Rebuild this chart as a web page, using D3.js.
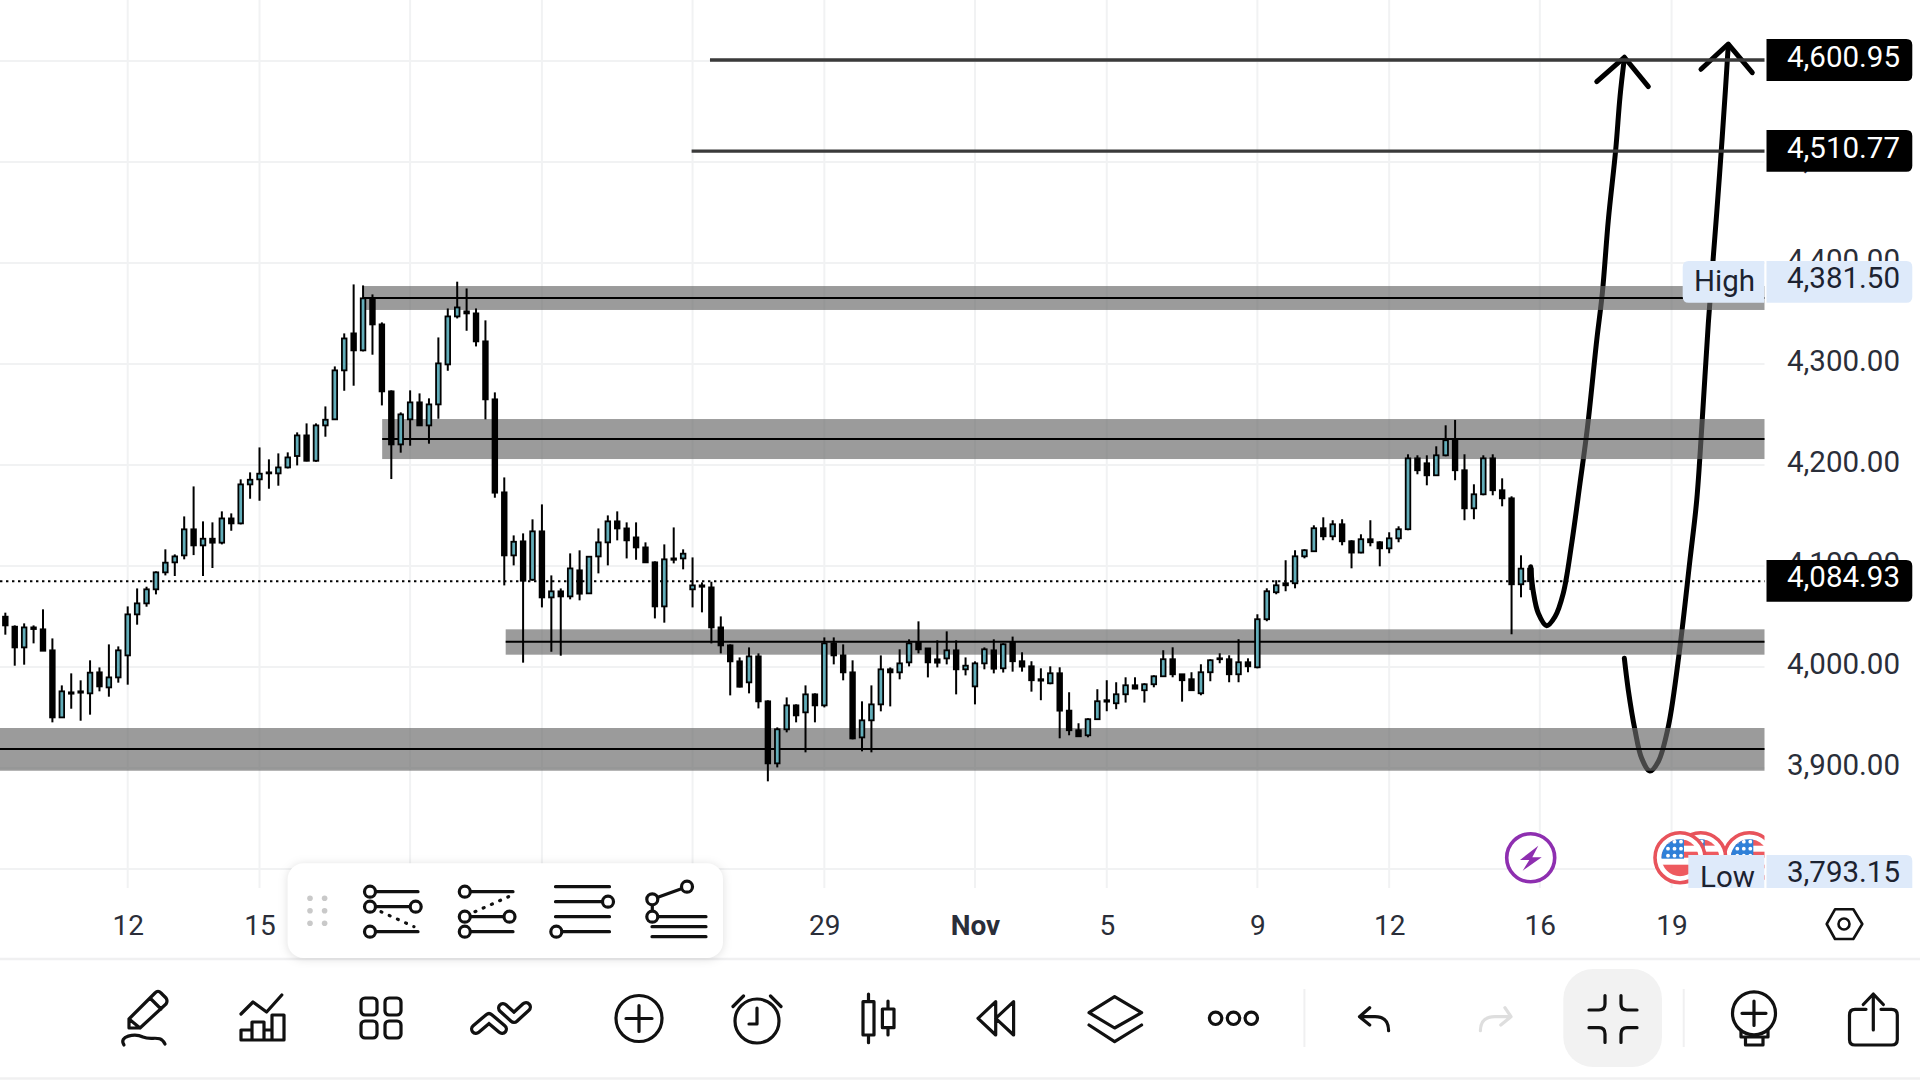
<!DOCTYPE html>
<html>
<head>
<meta charset="utf-8">
<title>Price chart</title>
<script src="https://cdn.jsdelivr.net/npm/d3@7/dist/d3.min.js"></script>
<style>
  html, body { margin: 0; padding: 0; background: #fff; }
  svg { display: block; }
  text { font-family: Roboto, "Liberation Sans", sans-serif; }
</style>
</head>
<body>
<svg id="chart" width="1920" height="1080"></svg>
<script>
// Candle series, one entry per bar
const opens = [
  4049.8,4039.9,4019.4,4039.2,4037.3,4016.5,3950.1,3974.9,3975.9,3973.9,
  3994.7,3979.8,3989.7,4011.5,4052.1,4063,4076.9,4093.7,4103.6,4110.5,
  4136.3,4120.4,4127,4123.1,4147.1,4142.2,4180.8,4185.8,4191.7,4191.7,
  4197.6,4208.9,4229.3,4204.2,4239.2,4245.2,4293.7,4330.3,4313.5,4365,
  4339.2,4272.9,4220.4,4245.2,4262,4239.2,4260,4299.6,4347.1,4352.1,
  4350.1,4322.4,4265,4172.9,4110.5,4124.4,4086.4,4134.3,4068.9,4074.9,
  4069.9,4095.7,4072.9,4109.5,4123.4,4144.2,4137.2,4128.3,4118.4,4103.6,
  4060,4107.5,4107.5,4076.9,4080.8,4078.8,4039.2,4021.4,4005.6,3984.8,
  4010.5,3966,3904.6,3938.3,3962,3955.1,3972.9,3962,4023.4,4011.5,
  3994.7,3930.3,3947.2,3963,3997.7,3994.7,4004.6,4024.4,4018.4,4007.6,
  4008.5,4016.5,3997.7,3980.8,4003.6,4016.5,3998.7,4024.8,4005.7,4000.7,
  3987.9,3983.9,3993.8,3956.8,3937.4,3932.4,3948.3,3967.1,3964.1,3973,
  3981.9,3977,3982.9,3990.8,4007.7,3992.8,3987.9,3974,3994.8,4008.6,
  4007.7,3992.8,4004.7,3999.7,4047.3,4074,4082.9,4082.9,4109.6,4114.6,
  4137.4,4129.4,4141.3,4124.5,4113.3,4126.5,4123.5,4117.5,4127.4,4136.4,
  4206.6,4201.7,4189.8,4209.6,4225.5,4194.8,4157.1,4171,4206.6,4175,
  4167,4081.9,4097.4
];
const highs = [
  4053.8,4041.2,4043.2,4041.2,4057.1,4028.3,3981.8,3993.7,3986.8,4006.6,
  3999.6,4022.4,4020.4,4060,4077.8,4079.5,4094.7,4116.5,4111.5,4149.1,
  4178.8,4144.2,4143.2,4154.1,4152.1,4185.8,4192.7,4217.4,4205.6,4211.5,
  4212.5,4232.3,4241.2,4241.2,4258,4297.6,4330.3,4378.8,4377.8,4368.9,
  4341.2,4273.9,4252.1,4273.9,4270.9,4266,4326.3,4355,4381.5,4374.8,
  4355,4343.2,4271.9,4187.7,4130.3,4132.3,4146.2,4161,4090.7,4077.8,
  4112.5,4115.5,4109.9,4137.2,4150.1,4154.1,4143.2,4143.2,4123.4,4104.6,
  4121.4,4138.2,4116.5,4108.5,4083.8,4084.4,4050.1,4022.4,4009.5,4019.4,
  4013.5,3967,3940.2,3969.9,3963,3981.8,3973.9,4029.3,4029.3,4022.4,
  4006.6,3966,3981.8,4011.5,3999.6,4017.5,4027.4,4045.2,4018.4,4026.4,
  4035.3,4026.4,4009.5,4005.6,4019.4,4027.4,4023.5,4030.1,4014.6,4005.7,
  3998.7,4000.7,3999.7,3975,3944.3,3949.2,3978,3986.9,3984.9,3989.8,
  3989.8,3983.9,3991.8,4016.6,4019.5,3992.8,3994.8,4002.7,4007.7,4013.6,
  4011.6,4027.5,4008.6,4052.2,4077.9,4085.9,4105.7,4115.6,4116.6,4140.3,
  4148.2,4145.3,4146.3,4125.5,4131.4,4145.3,4124.5,4133.4,4139.3,4210.6,
  4209.6,4209.6,4218.5,4239.3,4244.6,4210.6,4180.9,4209.6,4210.6,4186.8,
  4169,4110.6,4099.4
];
const lows = [
  4032,4001.3,4002.3,4023.4,4016.1,3945.2,3950.1,3958.7,3946.8,3952.8,
  3975.9,3970.6,3984.5,3982.5,4041.9,4059.7,4071.9,4090.7,4090.1,4106.6,
  4110.8,4090.1,4098,4121.4,4134.9,4141.2,4166.6,4164.6,4176.5,4179.5,
  4196.6,4199.6,4203.6,4203.2,4228,4245.2,4273.5,4278.5,4312.5,4309.2,
  4259,4186.1,4212.2,4219.1,4239.2,4221.1,4245.8,4293.3,4345.1,4332.9,
  4317.4,4245.2,4167.6,4080.8,4100.6,4004.3,4085.4,4059,4015.1,4011.2,
  4067,4066,4072.9,4092.7,4100.6,4125.4,4107.5,4106.2,4103.3,4048.1,
  4043.9,4102.6,4096.7,4059,4054.1,4023.4,4013.5,3971.9,3979.8,3973.9,
  3959,3886.8,3900.6,3935.3,3945.2,3915.5,3945.2,3960,4002.6,3986.8,
  3928.4,3916.5,3915.5,3956.1,3961,3987.8,4000.6,4013.5,3989.7,3999.6,
  4002.6,3972.9,3991.7,3963,3997.7,3993.7,3994.5,3995.4,3995.4,3975.6,
  3967.1,3982.9,3929.4,3932.4,3931.4,3930.4,3948.3,3956.2,3958.2,3964.8,
  3978,3964.8,3979.9,3990.8,3989.8,3965.7,3977,3972,3985.9,4003.7,
  3984.9,3984.9,3994.8,3998.7,4045.3,4072,4075,4077.9,4107.6,4114.6,
  4125.5,4125.5,4120.5,4097.7,4112.6,4119.5,4099.7,4112.6,4123.5,4135.4,
  4190.8,4179.9,4189.8,4208.6,4184.9,4145.3,4146.3,4170,4170,4159.1,
  4032.4,4069,4076.3
];
const closes = [
  4041.2,4019.4,4039.2,4037.6,4016.1,3950.1,3975.9,3973.6,3974.6,3994.4,
  3980.8,3989.7,4016.5,4052.1,4063,4076.9,4093.7,4103.3,4109.5,4136.3,
  4120.4,4127,4123.1,4147.1,4142.2,4180.8,4185.4,4191.4,4192.7,4197.6,
  4207.5,4229.3,4204.2,4239.2,4244.8,4293.7,4325.3,4313.5,4365,4339.2,
  4272.9,4220.4,4250.1,4262,4239.2,4260,4300.6,4347.1,4356,4350.1,
  4322.4,4265,4172.6,4110.5,4124,4085.4,4134.3,4068.9,4074.9,4069.9,
  4097.6,4072.6,4109.2,4123.4,4144.2,4137.2,4125.4,4118.4,4103.6,4060,
  4106.6,4106.2,4112.2,4080.8,4079.5,4039.2,4021.4,4005.6,3980.5,4010.5,
  3966,3904.6,3938.3,3962,3952.1,3972.9,3962,4023.4,4011.5,3994.7,
  3929.3,3947.2,3963,3997.7,3994.7,4003.6,4023.4,4017.5,4004.6,4004.3,
  4016.5,3997.7,4001.3,4003.6,4017.5,3998.3,4022.5,4005.7,4000.4,3986.9,
  3986.5,3993.8,3956.8,3937.4,3931.4,3948.3,3966.1,3965.7,3973,3981.9,
  3978.6,3982.9,3990.8,4007.7,3992.8,3986.9,3977,3994.8,4006.7,4007.7,
  3992.8,4004.7,4000.7,4047.3,4075,4080.9,4080.9,4109.6,4115.6,4137.4,
  4129.4,4141.3,4124.5,4113.3,4126.5,4123.5,4117.5,4127.4,4136.4,4206.6,
  4194.8,4189.8,4209.6,4224.5,4194.8,4157.1,4171,4206.6,4175,4167,
  4081.9,4097.4,4084.93
];

// Axes
const gridPrices = [3800, 3900, 4000, 4100, 4200, 4300, 4400, 4500, 4600];
const priceTicks = [3900, 4000, 4100, 4200, 4300, 4400, 4500];
const timeTickBars = [13, 27, 43, 57, 73, 87, 103, 117, 133, 147, 163, 177];
const timeTickLabels = ["12", "15", "", "", "", "29", "Nov", "5", "9", "12", "16", "19"];

// Support and resistance zones: [first bar, upper price, lower price, middle price]
const zoneStarts = [38, 40.03, 53.15, -1];
const zoneUppers = [4377.2, 4245.5, 4037.3, 3939.6];
const zoneLowers = [4353.5, 4205.9, 4012.2, 3897.3];
const zoneMiddles = [4365.3, 4225.7, 4025, 3918.8];

// Target levels
const targetPrices = [4600.95, 4510.77];
const targetStarts = [74.85, 72.9];
const lastPrice = 4084.93;
const highPrice = 4381.5;
const lowPrice = 3793.15;

// Projected paths: bar position and price along each stroke
const pathABars = [162.03,162.31,162.84,163.73,164.61,165.49,166.39,167.27,168.07,169.05,169.64,170.28,171.06,171.52,171.98];
const pathAPrices = [4099.3,4074.6,4053.2,4040.9,4049.8,4073,4122.5,4181.9,4237.9,4323.8,4370,4442.6,4511.9,4564.7,4602.7];
const pathBBars = [171.98,172.4,173.11,173.82,174.7,175.58,176.65,177.89,178.95,179.67,180.21,180.9,181.43,181.79,182.38,182.74,183.02];
const pathBPrices = [4008.6,3977.2,3937.6,3909.6,3897,3906.2,3940.9,4020.1,4105.9,4165.3,4237.9,4340.3,4406.2,4449.2,4525,4574.6,4615.8];
const arrowABars = [169.05, 171.98, 174.53];
const arrowAPrices = [4579.5, 4603.7, 4574.6];
const arrowBBars = [180.12, 183.02, 185.57];
const arrowBPrices = [4591.8, 4616.8, 4588.4];

const plotRight = 1764.5, plotBottom = 888;
const BULL = "#62adb9", INK = "#000";
const LABEL_SIZE = 29.5;

const x = d3.scaleLinear().domain([0, 177]).range([5.33, 1671.6]);
const y = d3.scaleLinear().domain([3900, 4600]).range([768, 61]);
const fmt = d3.format(",.2f");

const svg = d3.select("#chart");
svg.append("rect").attr("width", 1920).attr("height", 1080).attr("fill", "#fff");

// Grid
const grid = svg.append("g").attr("stroke", "#f1f2f3").attr("stroke-width", 2);
grid.selectAll("line.v").data(timeTickBars).join("line").attr("class", "v")
  .attr("x1", d => x(d)).attr("x2", d => x(d)).attr("y1", 0).attr("y2", plotBottom);
grid.selectAll("line.h").data(gridPrices).join("line").attr("class", "h")
  .attr("x1", 0).attr("x2", plotRight).attr("y1", d => y(d)).attr("y2", d => y(d));

// Price axis
const yAxis = svg.append("g").attr("transform", "translate(1900,0)")
  .call(d3.axisRight(y).tickValues(priceTicks).tickSize(0).tickFormat(fmt));
yAxis.select(".domain").remove();
yAxis.selectAll("text")
  .attr("x", 0).attr("dy", "6.9px").attr("text-anchor", "end")
  .attr("font-size", LABEL_SIZE).attr("font-family", "Roboto").attr("fill", "#2a2e39");

// Time axis
const xAxis = svg.append("g").attr("transform", "translate(0,935)")
  .call(d3.axisBottom(x).tickValues(timeTickBars).tickSize(0)
    .tickFormat((d, i) => timeTickLabels[i]));
xAxis.select(".domain").remove();
xAxis.selectAll("text")
  .attr("y", 0).attr("dy", 0).attr("font-size", 28).attr("font-family", "Roboto")
  .attr("fill", "#2a2e39")
  .attr("font-weight", (d, i) => timeTickLabels[i] === "Nov" ? 700 : 400);

// Projected paths sit under the translucent zones
const curveLine = d3.line().x(d => x(d[0])).y(d => y(d[1])).curve(d3.curveCatmullRom.alpha(0.5));
const straightLine = d3.line().x(d => x(d[0])).y(d => y(d[1]));
const strokes = svg.append("g").attr("fill", "none").attr("stroke", "#000")
  .attr("stroke-width", 5).attr("stroke-linecap", "round").attr("stroke-linejoin", "round");
strokes.append("path").attr("d", curveLine(d3.zip(pathABars, pathAPrices)));
strokes.append("path").attr("d", curveLine(d3.zip(pathBBars, pathBPrices)));
strokes.append("path").attr("d", straightLine(d3.zip(arrowABars, arrowAPrices)));
strokes.append("path").attr("d", straightLine(d3.zip(arrowBBars, arrowBPrices)));

// Zones with their middle lines
const zones = d3.range(zoneStarts.length);
svg.append("g").selectAll("rect").data(zones).join("rect")
  .attr("x", i => Math.max(0, x(zoneStarts[i])))
  .attr("width", i => plotRight - Math.max(0, x(zoneStarts[i])))
  .attr("y", i => y(zoneUppers[i]))
  .attr("height", i => y(zoneLowers[i]) - y(zoneUppers[i]))
  .attr("fill", "rgb(105,105,105)").attr("fill-opacity", 0.667);
svg.append("g").selectAll("line").data(zones).join("line")
  .attr("x1", i => Math.max(0, x(zoneStarts[i]))).attr("x2", plotRight)
  .attr("y1", i => y(zoneMiddles[i])).attr("y2", i => y(zoneMiddles[i]))
  .attr("stroke", "#000").attr("stroke-width", 2);

// Target levels
svg.append("g").selectAll("line").data(targetPrices).join("line")
  .attr("x1", (d, i) => x(targetStarts[i])).attr("x2", plotRight)
  .attr("y1", d => y(d)).attr("y2", d => y(d))
  .attr("stroke", "#3a3a3a").attr("stroke-width", 3.4);

// Last price line
svg.append("line")
  .attr("x1", 0).attr("x2", plotRight).attr("y1", y(lastPrice)).attr("y2", y(lastPrice))
  .attr("stroke", "#000").attr("stroke-width", 2).attr("stroke-dasharray", "2.4 3.6");

// Candles
const bars = d3.range(opens.length);
svg.append("g").selectAll("line").data(bars).join("line")
  .attr("x1", i => x(i)).attr("x2", i => x(i))
  .attr("y1", i => y(highs[i])).attr("y2", i => y(lows[i]))
  .attr("stroke", INK).attr("stroke-width", 2);
svg.append("g").selectAll("rect").data(bars).join("rect")
  .attr("x", i => x(i) - 2.3).attr("width", 4.6)
  .attr("y", i => y(Math.max(opens[i], closes[i])))
  .attr("height", i => Math.abs(y(opens[i]) - y(closes[i])))
  .attr("fill", i => closes[i] >= opens[i] ? BULL : INK)
  .attr("stroke", INK).attr("stroke-width", 1.8);

// Economic event markers
const events = svg.append("g");
events.append("circle").attr("cx", 1530.7).attr("cy", 857.7).attr("r", 24)
  .attr("fill", "#fff").attr("stroke", "#8e2fb0").attr("stroke-width", 3.6);
events.append("path")
  .attr("d", "M1538.3 845.7 L1520 860 L1529.3 860 L1522.7 870.7 L1541.7 857.3 L1532.3 857.3 Z")
  .attr("fill", "#8e2fb0");

const defs = svg.append("defs");
defs.append("clipPath").attr("id", "plotClip").append("rect")
  .attr("x", 0).attr("y", 0).attr("width", plotRight).attr("height", plotBottom);
const flagLayer = svg.append("g").attr("clip-path", "url(#plotClip)");
[1749.3, 1700.7, 1680].forEach((cx, idx) => {
  const cy = 857.7, id = "flag" + idx;
  defs.append("clipPath").attr("id", id).append("circle")
    .attr("cx", cx).attr("cy", cy).attr("r", 18.5);
  const g = flagLayer.append("g");
  g.append("circle").attr("cx", cx).attr("cy", cy).attr("r", 25)
    .attr("fill", "#fff").attr("stroke", "#e8535b").attr("stroke-width", 3.6);
  const f = g.append("g").attr("clip-path", `url(#${id})`);
  [[-18, 6], [-6, 6], [7, 12]].forEach(s => {
    f.append("rect").attr("x", cx - 19).attr("y", cy + s[0]).attr("width", 38).attr("height", s[1])
      .attr("fill", "#ee5a5f");
  });
  f.append("rect").attr("x", cx - 19).attr("y", cy - 20).attr("width", 23).attr("height", 21)
    .attr("fill", "#2f80d8");
  [-16, -9, -2].forEach(dy => [-12, -5.5, 1].forEach(dx => {
    f.append("circle").attr("cx", cx + dx).attr("cy", cy + dy).attr("r", 1.9).attr("fill", "#fff");
  }));
});

// Price tags on the axis
function tag(x0, x1, y0, y1, rl, rr) {
  return `M${x0 + rl} ${y0} H${x1 - rr} Q${x1} ${y0} ${x1} ${y0 + rr} V${y1 - rr} Q${x1} ${y1} ${x1 - rr} ${y1}` +
         ` H${x0 + rl} Q${x0} ${y1} ${x0} ${y1 - rl} V${y0 + rl} Q${x0} ${y0} ${x0 + rl} ${y0} Z`;
}
const tags = svg.append("g");
function priceTag(value, y0, y1, baseline, fill, color) {
  tags.append("path").attr("d", tag(1766.5, 1912.3, y0, y1, 0, 6)).attr("fill", fill);
  tags.append("text").attr("x", 1900).attr("y", baseline).attr("text-anchor", "end")
    .attr("font-size", LABEL_SIZE).attr("fill", color).text(fmt(value));
}
priceTag(targetPrices[0], 39, 81, 66.8, "#000", "#fff");
priceTag(targetPrices[1], 130, 171.7, 157.8, "#000", "#fff");
priceTag(lastPrice, 560, 601.7, 587.3, "#000", "#fff");
priceTag(highPrice, 261, 302.7, 288.3, "#deeafa", "#1c2230");

// Low tag is cut by the bottom of the pane
tags.append("path").attr("d", "M1766.5 855 H1906.3 Q1912.3 855 1912.3 861 V888 H1766.5 Z").attr("fill", "#deeafa");
tags.append("text").attr("x", 1900).attr("y", 881.7).attr("text-anchor", "end")
  .attr("font-size", LABEL_SIZE).attr("fill", "#1c2230").text(fmt(lowPrice));

tags.append("path").attr("d", tag(1682.7, 1764.3, 261, 302.7, 6, 0)).attr("fill", "#deeafa");
tags.append("text").attr("x", 1694).attr("y", 291).attr("font-size", LABEL_SIZE).attr("fill", "#1c2230").text("High");
tags.append("rect").attr("x", 1688.3).attr("y", 855).attr("width", 76).attr("height", 33).attr("fill", "#deeafa");
tags.append("text").attr("x", 1700).attr("y", 886.7).attr("font-size", LABEL_SIZE).attr("fill", "#1c2230").text("Low");

// Panes and toolbars
const ui = svg.append("g");
ui.append("line").attr("x1", 0).attr("x2", 1920).attr("y1", 959).attr("y2", 959)
  .attr("stroke", "#f0f0f1").attr("stroke-width", 2.5);
ui.append("line").attr("x1", 0).attr("x2", 1920).attr("y1", 1078.5).attr("y2", 1078.5)
  .attr("stroke", "#f0f0f1").attr("stroke-width", 2.5);

function strokePath(d, color = "#111", w = 3.2) {
  return ui.append("path").attr("d", d).attr("fill", "none").attr("stroke", color)
    .attr("stroke-width", w).attr("stroke-linecap", "round").attr("stroke-linejoin", "round");
}
function ring(cx, cy, r, w = 3.2) {
  return ui.append("circle").attr("cx", cx).attr("cy", cy).attr("r", r)
    .attr("fill", "#fff").attr("stroke", "#111").attr("stroke-width", w);
}

// Settings hexagon on the axis corner
strokePath("M1826.7 924 L1835 909.3 H1853.3 L1862.3 924 L1853.3 939 H1835 Z", "#111", 2.6);
ring(1844, 924, 5.5, 2.6);

// Floating drawing palette
ui.append("rect").attr("x", 287.6).attr("y", 863.3).attr("width", 435.4).attr("height", 94.7).attr("rx", 16)
  .attr("fill", "#fff").style("filter", "drop-shadow(0 1px 5px rgba(0,0,0,0.13))");
[310, 324.6].forEach(cx => [898.3, 910.7, 923.3].forEach(cy => {
  ui.append("circle").attr("cx", cx).attr("cy", cy).attr("r", 2.8).attr("fill", "#c9c9c9");
}));

strokePath("M370 891.7 H418 M370 906.7 H415.7 M370 931.7 H418");
strokePath("M381 911.7 L414 926.7").attr("stroke-dasharray", "1 8");
[[370, 891.7], [370, 906.7], [415.7, 906.7], [370, 931.7]].forEach(c => ring(c[0], c[1], 5.5));

strokePath("M464.8 891.7 H513 M464.8 916.7 H509.5 M464.8 931.7 H513");
strokePath("M475 911.7 L508.6 896.7").attr("stroke-dasharray", "1 8");
[[464.8, 891.7], [464.8, 916.7], [509.5, 916.7], [464.8, 931.7]].forEach(c => ring(c[0], c[1], 5.5));

strokePath("M555.5 886.7 H609.5 M555.5 901.7 H608 M555.5 916.7 H609.5 M556.3 931.7 H609.5");
[[608, 901.7], [556.3, 931.7]].forEach(c => ring(c[0], c[1], 5.5));

strokePath("M652.3 899.3 L687 886.7 M652.3 899.3 V916.7 M652.3 916.7 H706 M652 926.7 H706 M652 936.7 H706");
[[687, 886.7], [652.3, 899.3], [652.3, 916.7]].forEach(c => ring(c[0], c[1], 5.5));

// Bottom toolbar
strokePath("M129 1028 V1019 L155 993 Q158 990 161 993 L166 998 Q168 1001 166 1004 L140 1028 Z M129 1019 L140 1028 M150 998 L161 1009");
strokePath("M124 1045 C118 1036 135 1033 143 1037 C152 1041 160 1034 165 1044");

strokePath("M241 1014 L253 1002 L266.6 1012 L281.8 995");
strokePath("M241 1040 H284 V1015 H272 V1040 M272 1030 H264 M264 1040 V1022 H252 V1040 M252 1030 H241 V1040");

[[361, 998], [385, 998], [361, 1021], [385, 1021]].forEach(c => {
  ui.append("rect").attr("x", c[0]).attr("y", c[1]).attr("width", 16).attr("height", 17).attr("rx", 4)
    .attr("fill", "none").attr("stroke", "#111").attr("stroke-width", 3.2);
});

const chevrons = "M476 1029 L489 1018 L502 1029 M503 1008 L514 1018 L526 1007";
strokePath(chevrons, "#111", 12);
strokePath(chevrons, "#fff", 5.4);

ring(639, 1018.5, 23);
strokePath("M626 1018.5 H652 M639 1005.5 V1031.5");

ring(757, 1021, 22);
strokePath("M757 1008 V1024 H749 M733 1006.5 L743.5 996 M781 1006.5 L770.5 996");

strokePath("M863 1001.7 H874 V1035 H863 Z M868.5 994 V1001.7 M868.5 1035 V1042.7");
strokePath("M882.4 1009 H894 V1027.7 H882.4 Z M888 1001 V1009 M888 1027.7 V1035");

strokePath("M978 1018.3 L995.7 1001.7 V1035 Z M995.7 1018.3 L1013.6 1001.7 V1035 Z");

strokePath("M1114.6 996.7 L1141.6 1012.7 L1114.6 1028 L1089 1012.7 Z M1089 1025 L1114.6 1041.7 L1141.6 1025");

[1215.6, 1233.5, 1251.3].forEach(cx => ring(cx, 1018.3, 6.2));

ui.append("line").attr("x1", 1304.4).attr("x2", 1304.4).attr("y1", 989).attr("y2", 1047)
  .attr("stroke", "#f0f0f1").attr("stroke-width", 2);

strokePath("M1369.7 1007.7 L1359.5 1016.7 L1369.7 1025 M1359.5 1016.7 H1375 Q1388.6 1016.7 1388.6 1030.7");
strokePath("M1504.9 1007.7 L1511 1016.7 L1500.8 1025 M1511 1016.7 H1495 Q1480.4 1016.7 1480.4 1030.7", "#dedede");

ui.append("rect").attr("x", 1563.3).attr("y", 969).attr("width", 98.7).attr("height", 98).attr("rx", 30)
  .attr("fill", "#f2f2f2");
strokePath("M1605 995.5 V1004 Q1605 1010 1599 1010 H1589 M1621 995.5 V1004 Q1621 1010 1627 1010 H1637 M1589 1027.7 H1599 Q1605 1027.7 1605 1034 V1042.5 M1637 1027.7 H1627 Q1621 1027.7 1621 1034 V1042.5");

ui.append("line").attr("x1", 1683.7).attr("x2", 1683.7).attr("y1", 989).attr("y2", 1047)
  .attr("stroke", "#f0f0f1").attr("stroke-width", 2);

ring(1754, 1013.3, 21.5);
strokePath("M1742 1013.3 H1766 M1754 1001 V1025.5");
strokePath("M1741 1030.5 V1037 H1768 V1030.5 M1745.5 1037 V1045 H1763 V1037");

strokePath("M1866 1009.3 H1855 Q1849.5 1009.3 1849.5 1015 V1039.5 Q1849.5 1045 1855 1045 H1891.5 Q1897.3 1045 1897.3 1039.5 V1015 Q1897.3 1009.3 1891.5 1009.3 H1881");
strokePath("M1873.3 1030 V994 M1863.3 1004.5 L1873.3 994 L1883.3 1004.5");
</script>
</body>
</html>
